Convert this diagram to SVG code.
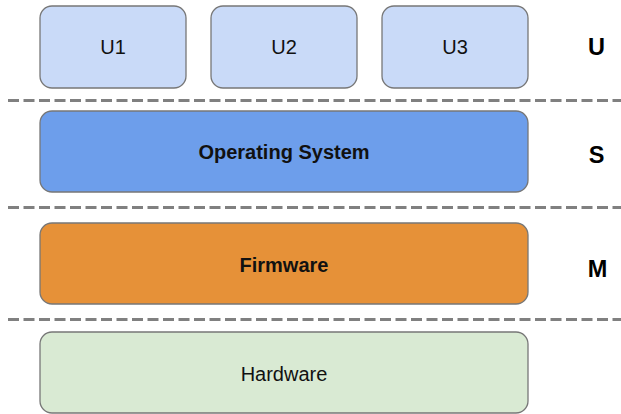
<svg xmlns="http://www.w3.org/2000/svg" width="621" height="414" viewBox="0 0 621 414">
<style>
.box{stroke:#777;stroke-width:1.3}
.u{fill:#c9daf8}
.t{font-family:"Liberation Sans",Arial,sans-serif;font-size:20px;fill:#111;text-anchor:middle;dominant-baseline:central}
.b{font-weight:bold}
.lbl{font-family:"Liberation Sans",Arial,sans-serif;font-size:23.5px;font-weight:bold;fill:#000;text-anchor:middle;dominant-baseline:central}
.dash{stroke:#808080;stroke-width:3;stroke-dasharray:11 4.5;fill:none}
</style>
<rect width="621" height="414" fill="#fff"/>
<g id="connectors">
<line class="dash" x1="8" y1="100.5" x2="621" y2="100.5"/>
<line class="dash" x1="8" y1="207.5" x2="621" y2="207.5"/>
<line class="dash" x1="8" y1="319.5" x2="621" y2="319.5"/>
</g>
<g id="u1"><rect class="box u" x="40" y="6" width="146" height="82" rx="12"/><text class="t" x="113" y="47">U1</text></g>
<g id="u2"><rect class="box u" x="211" y="6" width="146" height="82" rx="12"/><text class="t" x="284" y="47">U2</text></g>
<g id="u3"><rect class="box u" x="382" y="6" width="146" height="82" rx="12"/><text class="t" x="455" y="47">U3</text></g>
<g id="os"><rect class="box" fill="#6d9eeb" x="40" y="111" width="488" height="81" rx="12"/><text class="t b" x="284" y="152">Operating System</text></g>
<g id="fw"><rect class="box" fill="#e69138" x="40" y="223" width="488" height="81" rx="12"/><text class="t b" x="284" y="265">Firmware</text></g>
<g id="hw"><rect class="box" fill="#d9ead3" x="40" y="332" width="488" height="81" rx="12"/><text class="t" x="284" y="374">Hardware</text></g>
<g id="lu"><text class="lbl" x="596.5" y="47">U</text></g>
<g id="ls"><text class="lbl" x="596.5" y="155">S</text></g>
<g id="lm"><text class="lbl" x="597.5" y="269">M</text></g>
</svg>
